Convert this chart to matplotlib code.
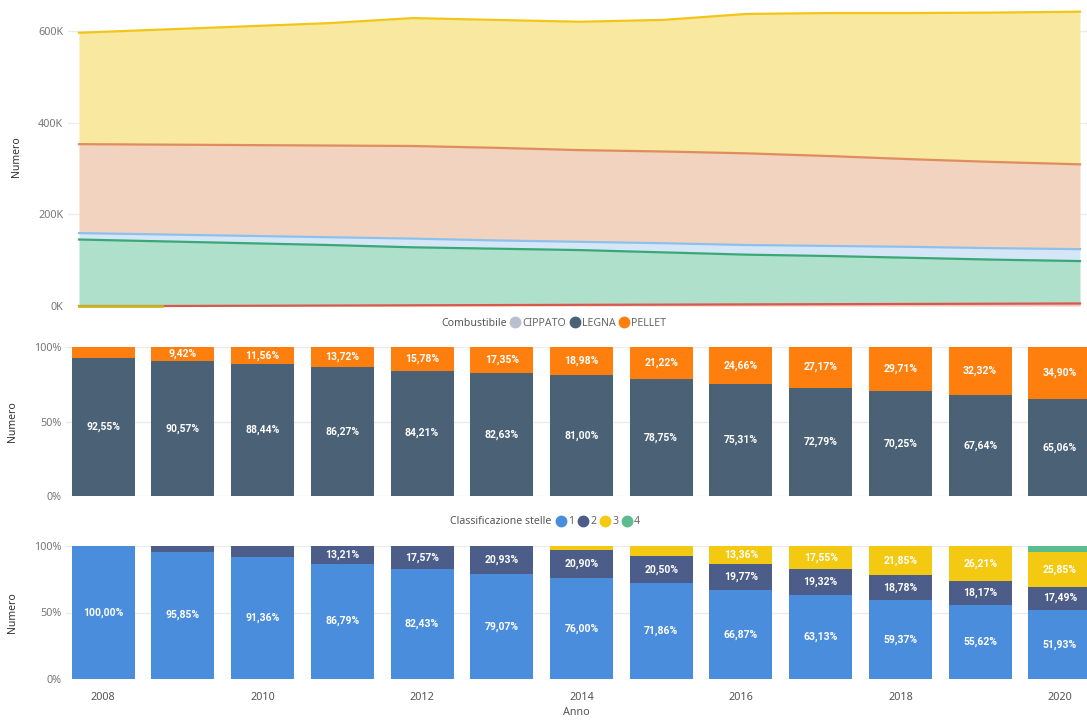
import numpy as np
import matplotlib.pyplot as plt
from matplotlib.lines import Line2D

# ---- data ----
years = np.arange(2008, 2021)

# top chart: stacked areas (thousands), individual series
area_red = [0, 0, 0.5, 1, 1.5, 2, 2.5, 3, 3.5, 4, 4.5, 5, 5.5]
area_green = [145, 141, 136.5, 132, 126.5, 123, 119.5, 114, 108.5, 105, 100.5, 96, 92.5]
area_blue = [14, 15, 16, 17, 19, 18, 18, 20, 21, 22, 24, 25, 26]
area_salmon = [194, 196, 198, 200, 202, 202, 200, 200, 200, 196, 191, 188, 185]
area_yellow = [243, 251, 259, 267, 279, 279, 280, 287, 304, 312, 319, 326, 333]

# middle chart: Combustibile (%)
legna = [92.55, 90.57, 88.44, 86.27, 84.21, 82.63, 81.00, 78.75, 75.31, 72.79, 70.25, 67.64, 65.06]
pellet = [7.40, 9.42, 11.56, 13.72, 15.78, 17.35, 18.98, 21.22, 24.66, 27.17, 29.71, 32.32, 34.90]
cippato = [100 - a - b for a, b in zip(legna, pellet)]

# bottom chart: Classificazione stelle (%)
stelle_1 = [100.00, 95.85, 91.36, 86.79, 82.43, 79.07, 76.00, 71.86, 66.87, 63.13, 59.37, 55.62, 51.93]
stelle_2 = [0, 4.15, 8.64, 13.21, 17.57, 20.93, 20.90, 20.50, 19.77, 19.32, 18.78, 18.17, 17.49]
stelle_3 = [0, 0, 0, 0, 0, 0, 3.10, 7.64, 13.36, 17.55, 21.85, 26.21, 25.85]
stelle_4 = [0, 0, 0, 0, 0, 0, 0, 0, 0, 0, 0, 0, 4.73]

TICK_C = '#777777'
LABEL_C = '#333333'
GRID_C = '#ebebeb'
plt.rcParams['font.family'] = ['Noto Sans', 'DejaVu Sans']

fig = plt.figure(figsize=(10.87, 7.2), dpi=100)


def style_axes(ax):
    for s in ax.spines.values():
        s.set_visible(False)
    ax.tick_params(length=0, labelsize=7.8, labelcolor=TICK_C)
    ax.grid(axis='y', color=GRID_C, linewidth=1)
    ax.set_axisbelow(True)
    ax.set_ylabel('Numero', fontsize=7.5, color=LABEL_C, fontweight='bold')
    ax.yaxis.set_label_coords(-0.047, 0.5)


def legend_row(title, labels, colors, x_title, x_items, y):
    fig.text(x_title / 1087, 1 - y / 720, title, ha='right', va='center',
             fontsize=7.6, color='#555555')
    handles = [Line2D([], [], marker='o', linestyle='', markersize=7.5, color=c)
               for c in colors]
    fig.legend(handles, labels, loc='center left',
               bbox_to_anchor=(x_items / 1087, 1 - y / 720), ncol=len(labels),
               frameon=False, handlelength=1.0, handletextpad=0.15,
               columnspacing=0.35, fontsize=7.6, labelcolor='#666666',
               borderpad=0, borderaxespad=0)


# ---- top: stacked area ----
ax1 = fig.add_axes([68 / 1087, 1 - 306 / 720, 1 - 68 / 1087, 298 / 720])
style_axes(ax1)
series = [
    (area_red, '#f2c4bd', '#d9584c'),
    (area_green, '#aee0cc', '#3aa876'),
    (area_blue, '#d5e7f7', '#8dc1ec'),
    (area_salmon, '#f1d3bf', '#e08c5d'),
    (area_yellow, '#f8e8a0', '#f2c618'),
]
base = np.zeros(len(years))
for vals, fc, lc in series:
    top = base + np.array(vals)
    ax1.fill_between(years, base, top, color=fc, linewidth=0)
    ax1.plot(years, top, color=lc, linewidth=1.6, clip_on=False)
    base = top
# olive line at bottom for the first years
ax1.plot(years[:2], [0.8, 0.8], color='#c9b521', linewidth=2, clip_on=False)
ax1.set_xlim(2008 - 11 / 83.4, 2020 + 7 / 83.4)
ax1.set_ylim(0, 650)
ax1.set_yticks([0, 200, 400, 600])
ax1.set_yticklabels(['0K', '200K', '400K', '600K'])
ax1.set_xticks([])
ax1.yaxis.set_label_coords(-0.045, 0.5)


def stacked_bars(ax, layers, colors, threshold=9):
    bottom = np.zeros(len(years))
    for vals, c in zip(layers, colors):
        vals = np.array(vals)
        ax.bar(years, vals, bottom=bottom, width=0.79, color=c, linewidth=0)
        for x, b, v in zip(years, bottom, vals):
            if v >= threshold:
                ax.text(x, b + v / 2, f'{v:.2f}%'.replace('.', ','), ha='center', va='center',
                        color='white', fontsize=7.5, fontweight='bold', family='Roboto')
        bottom = bottom + vals
    ax.set_xlim(2008 - 37 / 79.7, 2020 + 27 / 79.7)
    ax.set_ylim(0, 100)
    ax.set_yticks([0, 50, 100])
    ax.set_yticklabels(['0%', '50%', '100%'])


# ---- middle: Combustibile ----
ax2 = fig.add_axes([66 / 1087, 1 - 496 / 720, 1 - 66 / 1087, 149 / 720])
style_axes(ax2)
stacked_bars(ax2, [legna, pellet, cippato], ['#4a6176', '#fe7f0e', '#b9bfcf'])
ax2.set_xticks([])
legend_row('Combustibile', ['CIPPATO', 'LEGNA', 'PELLET'],
           ['#b9bfcf', '#4a6176', '#fe7f0e'], 507, 510, 323)

# ---- bottom: Classificazione stelle ----
ax3 = fig.add_axes([66 / 1087, 1 - 679 / 720, 1 - 66 / 1087, 133 / 720])
style_axes(ax3)
stacked_bars(ax3, [stelle_1, stelle_2, stelle_3, stelle_4],
             ['#4a8ddc', '#4c5d8a', '#f3c911', '#5bbd8f'])
ax3.set_xticks([2008, 2010, 2012, 2014, 2016, 2018, 2020])
ax3.tick_params(axis='x', pad=9, labelcolor='#555555')
ax3.set_xlabel('Anno', fontsize=7.8, color='#555555', labelpad=3)
legend_row('Classificazione stelle', ['1', '2', '3', '4'],
           ['#4a8ddc', '#4c5d8a', '#f3c911', '#5bbd8f'], 551, 556, 522)

fig.savefig('out.png', dpi=100)
